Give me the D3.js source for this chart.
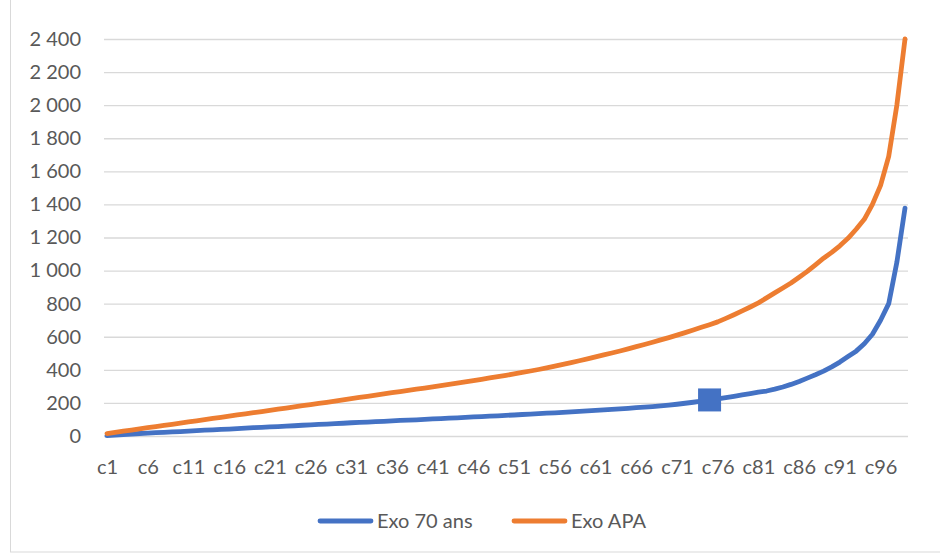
<!DOCTYPE html>
<html>
<head>
<meta charset="utf-8">
<script src="https://cdn.jsdelivr.net/npm/d3@7/dist/d3.min.js"></script>
<style>
  html, body { margin: 0; padding: 0; background: #fff; }
  svg { display: block; }
  text { font-family: Lato, "Open Sans", sans-serif; fill: #595959; }
</style>
</head>
<body>
<svg id="chart" width="940" height="554"></svg>
<script>
// Categories c1 … c99
const categories = d3.range(1, 100).map(i => "c" + i);

// Series values
const exo70 = [
  3, 6, 9, 12, 15, 17, 20, 22, 25, 27,
  30, 32, 35, 37, 40, 42, 45, 47, 50, 52,
  55, 57, 60, 62, 65, 67, 70, 72, 75, 77,
  80, 82, 84, 87, 89, 91, 94, 96, 98, 101,
  103, 105, 108, 110, 112, 115, 117, 120, 122, 125,
  127, 130, 132, 135, 138, 140, 143, 146, 149, 152,
  155, 158, 161, 164, 167, 171, 174, 178, 182, 187,
  192, 198, 204, 211, 218, 225, 232, 240, 248, 256,
  265, 272, 283, 296, 312, 330, 350, 370, 392, 418,
  447, 480, 513, 558, 615, 700, 800, 1050, 1378
];
const exoAPA = [
  15, 22, 29, 36, 43, 50, 57, 64, 71, 78,
  85, 92, 99, 106, 113, 120, 127, 134, 141, 148,
  155, 162, 169, 176, 183, 190, 197, 204, 211, 219,
  226, 233, 240, 247, 254, 262, 269, 276, 283, 290,
  297, 305, 312, 320, 327, 335, 343, 351, 359, 367,
  375, 384, 393, 402, 412, 422, 433, 444, 455, 466,
  478, 490, 502, 514, 527, 540, 553, 567, 581, 595,
  610, 625, 641, 657, 673, 690, 711, 733, 756, 780,
  805, 835, 865, 895, 925, 960, 995, 1035, 1075, 1110,
  1150, 1195, 1250, 1310, 1400, 1515, 1690, 2000, 2400
];

const seriesNames = ["Exo 70 ans", "Exo APA"];
const seriesColors = ["#4472C4", "#ED7D31"];

// Axis ticks
const yTickValues = [0, 200, 400, 600, 800, 1000, 1200, 1400, 1600, 1800, 2000, 2200, 2400];
const yTickLabels = ["0", "200", "400", "600", "800", "1 000", "1 200", "1 400", "1 600", "1 800", "2 000", "2 200", "2 400"];
const xTickLabels = categories.filter((c, i) => i % 5 === 0);

// Highlighted point on the first series
const highlightCategory = "c75";

const svg = d3.select("#chart");

// Outer chart border
svg.append("rect")
  .attr("x", 10.5).attr("y", -2)
  .attr("width", 940).attr("height", 554)
  .attr("fill", "none").attr("stroke", "#D9D9D9").attr("stroke-width", 1);

const plotLeft = 104, plotRight = 908;
const x = d3.scalePoint().domain(categories).range([107, 905]);
const y = d3.scaleLinear().domain([0, 2400]).range([436, 39]);

// Y axis with horizontal gridlines
const yAxis = svg.append("g")
  .attr("transform", `translate(${plotLeft},0)`)
  .call(d3.axisLeft(y)
    .tickValues(yTickValues)
    .tickFormat((d, i) => yTickLabels[i])
    .tickSize(-(plotRight - plotLeft))
    .tickPadding(23));
yAxis.select(".domain").remove();
yAxis.selectAll(".tick line").attr("stroke", "#D9D9D9").attr("stroke-width", 1.3);
yAxis.selectAll(".tick text")
  .style("font-size", "20px").style("font-family", "Lato, sans-serif").attr("fill", "#595959");

// X axis labels
const xAxis = svg.append("g")
  .attr("transform", `translate(0,${y(0)})`)
  .call(d3.axisBottom(x).tickValues(xTickLabels).tickSize(0).tickPadding(24));
xAxis.select(".domain").remove();
xAxis.selectAll(".tick text")
  .style("font-size", "20px").style("font-family", "Lato, sans-serif").attr("fill", "#595959");

// Series lines
const line = d3.line()
  .x((d, i) => x(categories[i]))
  .y(d => y(d));

[exo70, exoAPA].forEach((vals, k) => {
  svg.append("path")
    .datum(vals)
    .attr("d", line)
    .attr("fill", "none")
    .attr("stroke", seriesColors[k])
    .attr("stroke-width", 4.8)
    .attr("stroke-linejoin", "round")
    .attr("stroke-linecap", "round");
});

// Square marker on the highlighted point
const hi = categories.indexOf(highlightCategory);
const mSize = 23;
svg.append("rect")
  .attr("x", x(highlightCategory) - mSize / 2)
  .attr("y", y(exo70[hi]) - mSize / 2)
  .attr("width", mSize).attr("height", mSize)
  .attr("fill", seriesColors[0]);

// Legend
const legendItems = [
  { name: seriesNames[0], color: seriesColors[0], x: 318 },
  { name: seriesNames[1], color: seriesColors[1], x: 512 }
];
const legend = svg.append("g").attr("transform", "translate(0,521)");
legendItems.forEach(it => {
  legend.append("line")
    .attr("x1", it.x + 2).attr("x2", it.x + 53)
    .attr("y1", 0).attr("y2", 0)
    .attr("stroke", it.color).attr("stroke-width", 4.8)
    .attr("stroke-linecap", "round");
  legend.append("text")
    .attr("x", it.x + 59).attr("y", 0).attr("dy", "0.35em")
    .style("font-size", "20px")
    .text(it.name);
});
</script>
</body>
</html>
